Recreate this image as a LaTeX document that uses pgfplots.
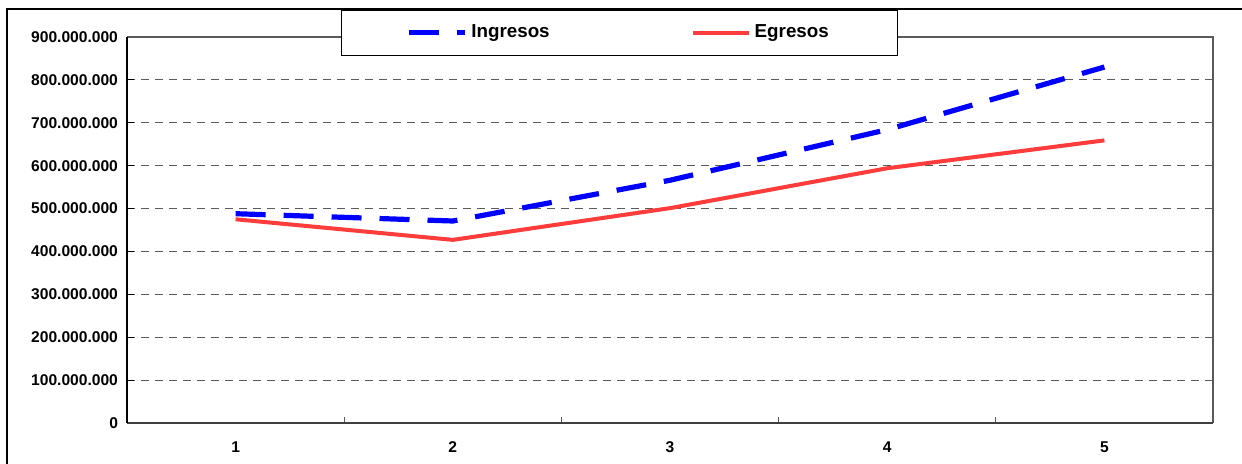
\documentclass[border=0pt]{standalone}
\usepackage{fontspec}
\setmainfont{Liberation Sans}
\usepackage{pgfplots}
\pgfplotsset{compat=1.18}
\definecolor{ingblue}{RGB}{0,0,255}
\definecolor{egred}{RGB}{255,60,60}
\definecolor{gridgray}{RGB}{90,90,90}
\begin{document}
\begin{tikzpicture}
\useasboundingbox (0,0) rectangle (621pt,232pt);
\draw[black,line width=0.9pt] (3.5pt,-5pt) -- (3.5pt,227.5pt) -- (625pt,227.5pt);
\begin{axis}[
  at={(63.5pt,20.5pt)}, anchor=south west,
  scale only axis, width=543pt, height=193pt,
  xmin=0.5, xmax=5.5, ymin=0, ymax=900000000,
  axis line style={draw=none},
  xtick={1,2,3,4,5}, xticklabels={1,2,3,4,5},
  minor xtick={0.5,1.5,2.5,3.5,4.5,5.5},
  major x tick style={draw=none},
  minor x tick style={gridgray, line width=0.6pt},
  minor tick length=3pt,
  xtick pos=bottom,
  x tick label style={yshift=-6pt, font=\bfseries\fontsize{7.8}{9}\selectfont},
  ytick={0,100000000,200000000,300000000,400000000,500000000,600000000,700000000,800000000,900000000},
  yticklabels={0,100.000.000,200.000.000,300.000.000,400.000.000,500.000.000,600.000.000,700.000.000,800.000.000,900.000.000},
  ytick pos=left,
  y tick label style={font=\bfseries\fontsize{7.8}{9}\selectfont, xshift=-1pt},
  major tick length=3.5pt,
  tick style={black, line width=0.5pt},
  ymajorgrids,
  y grid style={gridgray, dash pattern=on 4pt off 3pt, line width=0.5pt},
  scaled y ticks=false,
  clip=false,
  legend columns=2,
  legend style={at={(0.4535,1.0718)}, anchor=north, draw=black, fill=white,
    line width=0.6pt, font=\bfseries\fontsize{9.4}{11}\selectfont,
    inner xsep=32.3pt, inner ysep=5.5pt},
  /tikz/every even column/.append style={column sep=68.5pt},
  legend image code/.code={\draw[#1] (0pt,0pt) -- (28pt,0pt);},
]
% frame lines
\draw[gridgray, line width=0.6pt] (rel axis cs:0,1) -- (rel axis cs:1,1) -- (rel axis cs:1,0);
\draw[gridgray!70!black, line width=1.2pt] (rel axis cs:0,0) -- (rel axis cs:1,0);
\draw[black, line width=0.6pt] (rel axis cs:0,0) -- (rel axis cs:0,1);
\addplot[ingblue, line width=2.6pt, dash pattern=on 15pt off 9pt] coordinates {
 (1,488000000) (2,471000000) (3,566000000) (4,684000000) (5,830000000)};
\addlegendentry{Ingresos}
\addplot[egred, line width=2pt] coordinates {
 (1,475000000) (2,427000000) (3,501000000) (4,594000000) (5,659000000)};
\addlegendentry{Egresos}
\end{axis}
\end{tikzpicture}
\end{document}
